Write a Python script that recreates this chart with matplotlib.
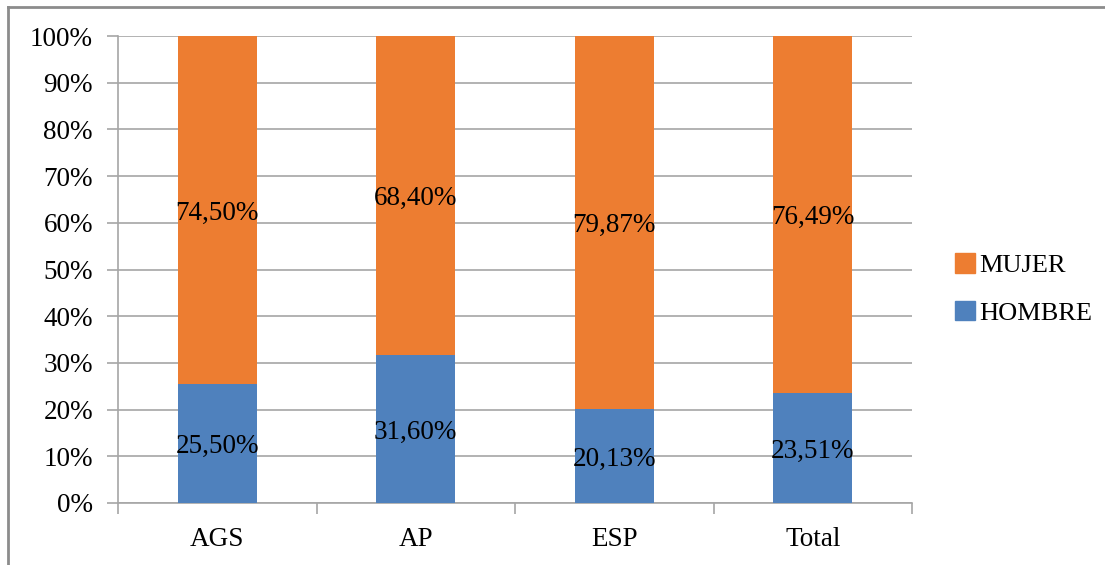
import matplotlib
matplotlib.use("Agg")
import matplotlib.pyplot as plt
from matplotlib.patches import Rectangle
from matplotlib.lines import Line2D
import numpy as np

categories = ["AGS", "AP", "ESP", "Total"]
hombre = [25.50, 31.60, 20.13, 23.51]
mujer = [74.50, 68.40, 79.87, 76.49]
yticks = [0, 10, 20, 30, 40, 50, 60, 70, 80, 90, 100]

ORANGE = "#ED7D31"
BLUE = "#4F81BD"
GRID = "#A6A6A6"
FONT = "Liberation Serif"
FS = 19.5

W, H = 1105, 565
fig = plt.figure(figsize=(W / 100, H / 100), dpi=100)
ax = fig.add_axes([118 / W, 1 - 503 / H, (912 - 118) / W, (503 - 36) / H])

x = np.arange(len(categories))
bw = 0.40
ax.bar(x, hombre, bw, color=BLUE, zorder=3, label="HOMBRE")
ax.bar(x, mujer, bw, bottom=hombre, color=ORANGE, zorder=3, label="MUJER")

def fmt(v):
    return f"{v:.2f}".replace(".", ",") + "%"

for i in range(len(categories)):
    ax.text(x[i], hombre[i] / 2, fmt(hombre[i]), ha="center", va="center_baseline",
            fontsize=FS, family=FONT, zorder=4)
    ax.text(x[i], hombre[i] + mujer[i] / 2, fmt(mujer[i]), ha="center", va="center_baseline",
            fontsize=FS, family=FONT, zorder=4)

ax.set_xlim(-0.5, len(categories) - 0.5)
ax.set_ylim(0, 100)
ax.set_yticks(yticks)
ax.set_yticklabels([f"{t}%" for t in yticks], family=FONT, fontsize=FS)
ax.yaxis.grid(True, color=GRID, linewidth=1.2, zorder=0)
ax.set_xticks(x)
ax.set_xticklabels(categories, family=FONT, fontsize=FS)
ax.tick_params(axis="x", length=0, pad=17)
ax.tick_params(axis="y", length=8, color=GRID, width=1.2, pad=10)
# category boundary ticks on x
ax.set_xticks(np.arange(-0.5, len(categories), 1.0), minor=True)
ax.tick_params(axis="x", which="minor", length=8, color=GRID, width=1.2)
for s in ["top", "right"]:
    ax.spines[s].set_visible(False)
for s in ["left", "bottom"]:
    ax.spines[s].set_color(GRID)
    ax.spines[s].set_linewidth(1.2)

handles = [Rectangle((0, 0), 1, 1, color=ORANGE), Rectangle((0, 0), 1, 1, color=BLUE)]
leg = fig.legend(handles, ["MUJER", "HOMBRE"], loc="center left",
                 bbox_to_anchor=(955 / W, 1 - 289 / H), frameon=False,
                 borderpad=0, borderaxespad=0,
                 prop={"family": FONT, "size": 19}, handlelength=0.75, handleheight=0.75,
                 handletextpad=0.15, labelspacing=0.9)

# outer frame (left and top edges visible)
fig.add_artist(Line2D([8 / W, 8 / W], [0, 1 - 7 / H], transform=fig.transFigure,
                      color="#8C8C8C", linewidth=2))
fig.add_artist(Line2D([8 / W, 1], [1 - 7 / H, 1 - 7 / H], transform=fig.transFigure,
                      color="#8C8C8C", linewidth=2))

fig.savefig("out.png", dpi=100)
